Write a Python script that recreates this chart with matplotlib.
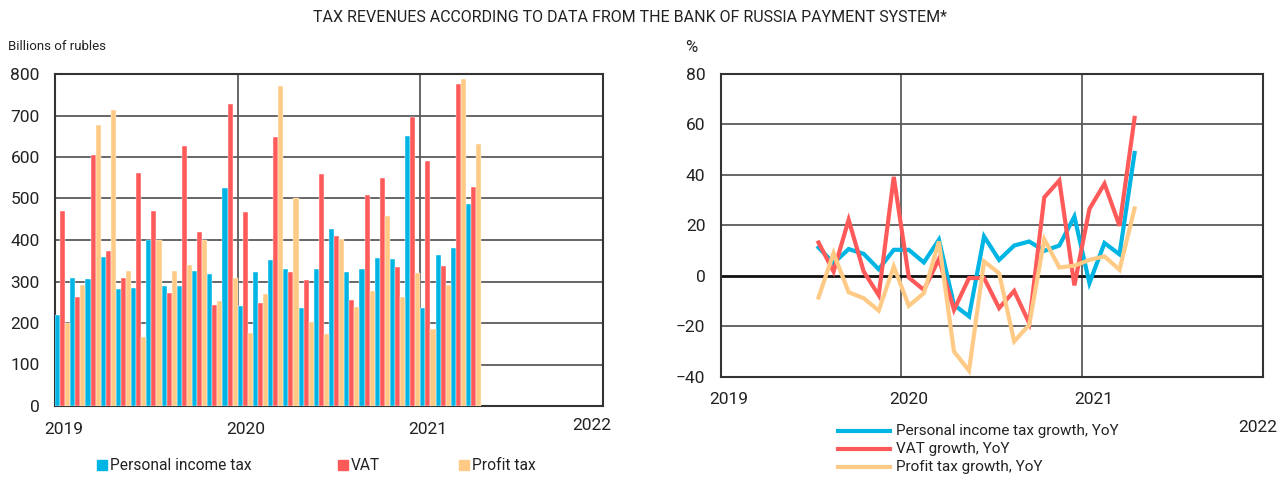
import matplotlib
matplotlib.use('Agg')
import matplotlib.pyplot as plt
from matplotlib.patches import Rectangle
from matplotlib.lines import Line2D
import numpy as np

plt.rcParams['font.family'] = ['Roboto', 'DejaVu Sans']

# ---------------- data ----------------
# monthly tax revenues, Jan 2019 .. Apr 2021 (billions of rubles)
pit = [219, 308, 307, 359, 281, 284, 400, 288, 290, 325, 317, 525,
       242, 323, 352, 329, 235, 329, 426, 323, 329, 357, 355, 650,
       235, 365, 381, 487]
vat = [470, 263, 606, 374, 308, 562, 470, 272, 627, 419, 243, 727,
       467, 247, 647, 324, 304, 558, 410, 256, 508, 550, 335, 697,
       590, 337, 776, 527]
profit = [199, 292, 677, 713, 325, 166, 400, 325, 340, 400, 253, 308,
          175, 271, 771, 500, 203, 174, 402, 239, 276, 458, 262, 320,
          186, 292, 788, 631]

# YoY growth, Jul 2019 .. Apr 2021 (%)
pit_g = [11.2, 5.0, 10.6, 8.7, 2.6, 10.3, 10.3, 5.3, 14.3, -11.5, -16.1,
         15.6, 6.3, 12.0, 13.6, 9.9, 12.0, 23.5, -2.9, 13.0, 8.5, 48.7]
vat_g = [13.2, 1.7, 22.2, 1.7, -7.7, 39.2, -0.7, -5.6, 6.7, -13.5, -0.9,
         -0.9, -12.8, -6.0, -18.8, 31.1, 37.8, -3.8, 26.5, 36.5, 19.8, 62.6]
profit_g = [-8.6, 9.0, -6.5, -8.9, -13.8, 3.7, -11.9, -6.9, 13.6, -30.0,
            -37.6, 5.7, 1.0, -26.0, -19.4, 14.5, 3.3, 4.0, 6.3, 7.7, 2.4, 26.7]
growth_start_month = 6  # July 2019

years = ['2019', '2020', '2021', '2022']
bar_names = ['Personal income tax', 'VAT', 'Profit tax']
line_names = ['Personal income tax growth, YoY', 'VAT growth, YoY',
              'Profit tax growth, YoY']
title = 'TAX REVENUES ACCORDING TO DATA FROM THE BANK OF RUSSIA PAYMENT SYSTEM*'

# ---------------- style ----------------
BLUE = '#00B5E4'
RED = '#FF5A5A'
ORANGE = '#FFCA85'
GRID = '#5a5a5a'
FRAME = '#333333'
TXT = '#222222'

W, H = 1288, 479
fig = plt.figure(figsize=(W / 100, H / 100), dpi=100)


def ax_px(l, t, r, b):
    return fig.add_axes([l / W, 1 - b / H, (r - l) / W, (b - t) / H])


def fx(x):
    return x / W


def fy(y):
    return 1 - y / H


fig.text(fx(630), fy(17), title, ha='center', va='center', fontsize=11.5, color=TXT)

# ---------------- left: bars ----------------
ax1 = ax_px(55, 74, 603, 406)
n = len(pit)
x = np.arange(n)
w = 1 / 3
for i, (vals, col) in enumerate(zip([pit, vat, profit], [BLUE, RED, ORANGE])):
    ax1.bar(x + i * w, vals, width=w, align='edge', color=col,
            edgecolor='white', linewidth=0.3, zorder=3)
ax1.set_xlim(0, 36)
ax1.set_ylim(0, 800)
ax1.set_yticks(np.arange(0, 801, 100))
ax1.set_xticks([])
for yv in range(100, 800, 100):
    ax1.axhline(yv, color=GRID, lw=1.3, zorder=1)
for xv in (12, 24):
    ax1.axvline(xv, color=GRID, lw=1.3, zorder=1)
for s in ax1.spines.values():
    s.set_color(FRAME)
    s.set_linewidth(1.5)
ax1.tick_params(axis='y', length=0, pad=11, labelsize=12.5, labelcolor=TXT)
fig.text(fx(8), fy(46), 'Billions of rubles', ha='left', va='center',
         fontsize=9.5, color=TXT)
for xpix, ypix, lab in [(64, 429, years[0]), (246, 429, years[1]),
                        (428, 429, years[2]), (592, 426, years[3])]:
    fig.text(fx(xpix), fy(ypix), lab, ha='center', va='center',
             fontsize=12.5, color=TXT)

# left legend
for xpix, col, lab in [(97, BLUE, bar_names[0]), (338, RED, bar_names[1]),
                       (459, ORANGE, bar_names[2])]:
    fig.patches.append(Rectangle((fx(xpix), fy(470)), 10 / W, 10 / H,
                                 transform=fig.transFigure, color=col))
    fig.text(fx(xpix + 13), fy(465), lab, ha='left', va='center',
             fontsize=11.2, color=TXT)

# ---------------- right: lines ----------------
ax2 = ax_px(720.7, 74, 1262.5, 376.7)
xg = np.arange(len(pit_g)) + growth_start_month + 0.5
for vals, col in zip([pit_g, vat_g, profit_g], [BLUE, RED, ORANGE]):
    ax2.plot(xg, vals, color=col, lw=3.0, zorder=3, solid_joinstyle='miter')
ax2.set_xlim(0, 36)
ax2.set_ylim(-40, 80)
ax2.set_yticks(np.arange(-40, 81, 20))
ax2.set_xticks([])
for yv in (-20, 20, 40, 60):
    ax2.axhline(yv, color=GRID, lw=1.3, zorder=1)
ax2.axhline(0, color='#111111', lw=2.0, zorder=2)
for xv in (12, 24):
    ax2.axvline(xv, color=GRID, lw=1.3, zorder=1)
for s in ax2.spines.values():
    s.set_color(FRAME)
    s.set_linewidth(1.5)
ax2.tick_params(axis='y', length=0, pad=11, labelsize=12.5, labelcolor=TXT)
fig.text(fx(691), fy(47), '%', ha='center', va='center', fontsize=12, color=TXT)
for xpix, ypix, lab in [(729, 400, years[0]), (909, 400, years[1]),
                        (1094, 400, years[2]), (1258, 428, years[3])]:
    fig.text(fx(xpix), fy(ypix), lab, ha='center', va='center',
             fontsize=12.5, color=TXT)

# right legend
for k, (col, lab) in enumerate(zip([BLUE, RED, ORANGE], line_names)):
    yy = 431 + 18 * k
    fig.lines.append(Line2D([fx(838), fx(890)], [fy(yy), fy(yy)],
                            transform=fig.transFigure, color=col, lw=3.0))
    fig.text(fx(896), fy(yy), lab, ha='left', va='center', fontsize=11,
             color=TXT)

fig.savefig('out.png', dpi=100)
